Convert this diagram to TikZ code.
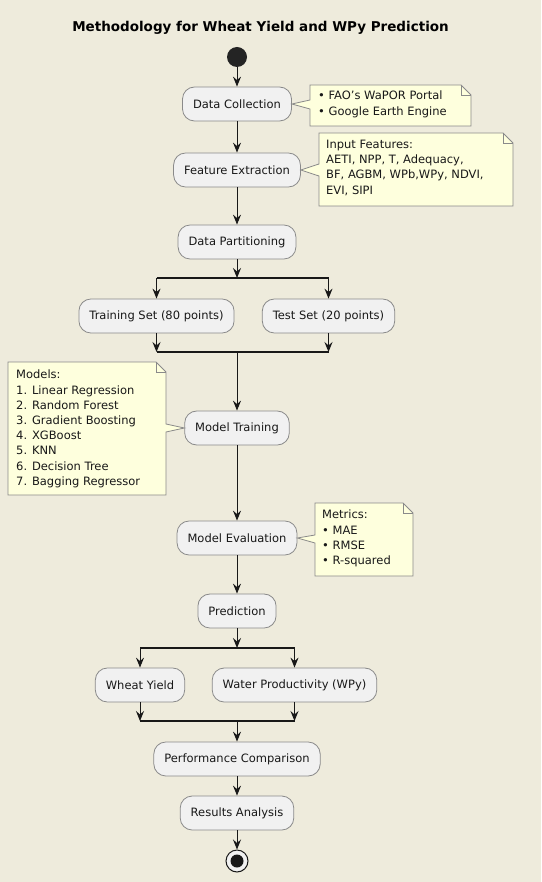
\documentclass[tikz,border=0pt]{standalone}
\usepackage{fontspec}
\setmainfont{DejaVu Sans}
\usetikzlibrary{arrows.meta,calc}
\definecolor{bgcol}{HTML}{EEEBDC}
\definecolor{actfill}{HTML}{F1F1F1}
\definecolor{actline}{HTML}{8A8A8A}
\definecolor{notefill}{HTML}{FEFFDD}
\definecolor{inkcol}{HTML}{181818}
\newcommand\myactfont{\fontsize{11.5}{14}\selectfont}
\newcommand\mynotefont{\fontsize{11.5}{15.2}\selectfont}
\tikzset{
  act/.style={draw=actline, fill=actfill, rounded corners=12pt, minimum height=34pt,
    inner xsep=10.5pt, line width=0.8pt, font=\myactfont, text=inkcol},
  notetxt/.style={anchor=north west, inner xsep=8pt, inner ysep=0pt, align=left,
    font=\mynotefont, text=inkcol},
  noteshape/.style={draw=actline, fill=notefill, line width=0.8pt},
  arr/.style={draw=inkcol, line width=1pt, -{Stealth[length=10pt,width=8pt,inset=3.5pt]}},
  barline/.style={draw=inkcol, line width=2pt},
}
\begin{document}
\begin{tikzpicture}[x=1pt,y=-1pt]
\fill[bgcol] (0,0) rectangle (541,882);
\useasboundingbox (0,0) rectangle (541,882);

\node[font=\bfseries\fontsize{13.5}{16}\selectfont, text=black] (title) at (260.5,28) {Methodology for Wheat Yield and WPy Prediction};

% start
\node[circle, fill=inkcol!95, minimum size=20pt, inner sep=0pt] (start) at (237,57) {};

% activities
\node[act] (dc) at (237,104) {Data Collection};
\node[act] (fe) at (237,170) {Feature Extraction};
\node[act] (dp) at (237,242) {Data Partitioning};
\node[act] (train) at (156.5,316) {Training Set (80 points)};
\node[act] (test) at (328.5,316) {Test Set (20 points)};
\node[act] (mt) at (237,428) {Model Training};
\node[act] (me) at (237,538) {Model Evaluation};
\node[act] (pred) at (237,611) {Prediction};
\node[act] (wy) at (140,685) {Wheat Yield};
\node[act] (wp) at (294.5,685) {Water Productivity (WPy)};
\node[act] (pc) at (237,759) {Performance Comparison};
\node[act] (ra) at (237,813) {Results Analysis};

% end
\node[circle, draw=inkcol, line width=1pt, fill=actfill, minimum size=22pt, inner sep=0pt] (stop) at (237,861) {};
\fill[inkcol] (stop.center) circle (6.5pt);

% fork / join coordinates
\coordinate (f1c) at (237,278);
\coordinate (f1l) at (156.5,278);
\coordinate (f1r) at (328.5,278);
\coordinate (j1c) at (237,352);
\coordinate (j1l) at (156.5,352);
\coordinate (j1r) at (328.5,352);
\coordinate (f2c) at (237,648);
\coordinate (f2l) at (140,648);
\coordinate (f2r) at (294.5,648);
\coordinate (j2c) at (237,721);
\coordinate (j2l) at (140,721);
\coordinate (j2r) at (294.5,721);

\draw[barline] (f1l) -- (f1r);
\draw[barline] (j1l) -- (j1r);
\draw[barline] (f2l) -- (f2r);
\draw[barline] (j2l) -- (j2r);

% connectors
\draw[arr] (start) -- (dc);
\draw[arr] (dc) -- (fe);
\draw[arr] (fe) -- (dp);
\draw[arr] (dp) -- (f1c);
\draw[arr] (f1l) -- (train);
\draw[arr] (f1r) -- (test);
\draw[arr] (train) -- (j1l);
\draw[arr] (test) -- (j1r);
\draw[arr] (j1c) -- (mt);
\draw[arr] (mt) -- (me);
\draw[arr] (me) -- (pred);
\draw[arr] (pred) -- (f2c);
\draw[arr] (f2l) -- (wy);
\draw[arr] (f2r) -- (wp);
\draw[arr] (wy) -- (j2l);
\draw[arr] (wp) -- (j2r);
\draw[arr] (j2c) -- (pc);
\draw[arr] (pc) -- (ra);
\draw[arr] (ra) -- (stop);

% notes
% note 1
\draw[noteshape] (310,85) -- (461,85) -- (471,95) -- (471,126) -- (310,126) -- (310,109) -- (dc.east) -- (310,100) -- cycle;
\draw[actline, line width=0.8pt] (461,85) -- (461,95) -- (471,95);
\node[notetxt] (n1) at (310,91) {• FAO's WaPOR Portal\\• Google Earth Engine};

% note 2
\draw[noteshape] (319,133) -- (503,133) -- (513,143) -- (513,206) -- (319,206) -- (319,176) -- (fe.east) -- (319,164) -- cycle;
\draw[actline, line width=0.8pt] (503,133) -- (503,143) -- (513,143);
\node[notetxt] (n2) at (318,140) {Input Features:\\AETI, NPP, T, Adequacy,\\BF, AGBM, WPb,WPy, NDVI,\\EVI, SIPI};

% note 3
\draw[noteshape] (8,362) -- (156,362) -- (166,372) -- (166,424) -- (mt.west) -- (166,432) -- (166,495) -- (8,495) -- cycle;
\draw[actline, line width=0.8pt] (156,362) -- (156,372) -- (166,372);
\node[notetxt] (n3) at (8,370) {Models:\\1. Linear Regression\\2. Random Forest\\3. Gradient Boosting\\4. XGBoost\\5. KNN\\6. Decision Tree\\7. Bagging Regressor};

% note 4
\draw[noteshape] (315,503) -- (403,503) -- (413,513) -- (413,576) -- (315,576) -- (315,543) -- (me.east) -- (315,535) -- cycle;
\draw[actline, line width=0.8pt] (403,503) -- (403,513) -- (413,513);
\node[notetxt] (n4) at (314,510) {Metrics:\\• MAE\\• RMSE\\• R-squared};
\end{tikzpicture}
\end{document}
